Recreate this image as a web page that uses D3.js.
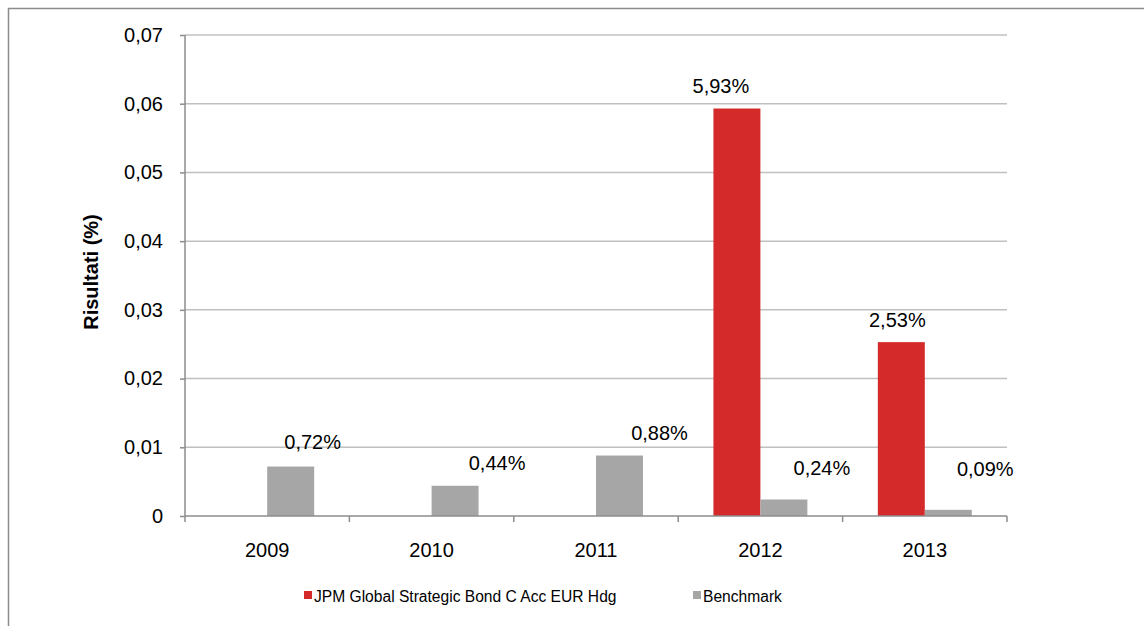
<!DOCTYPE html>
<html><head><meta charset="utf-8">
<script src="https://cdn.jsdelivr.net/npm/d3@7"></script>
<style>body{margin:0;background:#fff}svg{display:block}text{font-family:"Liberation Sans",Arial,sans-serif}</style>
</head><body>
<script>
const categories = ["2009","2010","2011","2012","2013"];
const seriesNames = ["JPM Global Strategic Bond C Acc EUR Hdg","Benchmark"];
const fundValues = [null,null,null,0.0593,0.0253];
const benchValues = [0.0072,0.0044,0.0088,0.0024,0.0009];
const fundLabels = [null,null,null,"5,93%","2,53%"];
const benchLabels = ["0,72%","0,44%","0,88%","0,24%","0,09%"];
const yTicks = [0,0.01,0.02,0.03,0.04,0.05,0.06,0.07];
// manual label nudges (as in the original, where labels were dragged)
const fundLabelNudge = [null,null,null,[-16,-23],[-4,-22]];
const benchLabelNudge = [[22,-25],[42,-23],[40,-23],[38,-32],[37,-41]];

const W=1144,H=626;
const svg=d3.select("body").append("svg").attr("width",W).attr("height",H);
svg.append("rect").attr("x",8.5).attr("y",8.5).attr("width",W+20).attr("height",H+20)
  .attr("fill","none").attr("stroke","#8c8c8c").attr("stroke-width",1.5);

const m={l:185,r:1007,t:35,b:516};
const x=d3.scaleBand().domain(categories).range([m.l,m.r]).paddingInner(0).paddingOuter(0);
const y=d3.scaleLinear().domain([0,0.07]).range([m.b,m.t]);
const bw=x.bandwidth()/3.5;
const FS=20;

// gridlines
svg.append("g").selectAll("line").data(yTicks.filter(d=>d>0)).join("line")
  .attr("x1",m.l).attr("x2",m.r).attr("y1",d=>y(d)).attr("y2",d=>y(d))
  .attr("stroke","#c0c0c0").attr("stroke-width",1.5);

const fmt=d=>d===0?"0":d3.format(".2f")(d).replace(".",",");
const ya=svg.append("g").attr("transform",`translate(${m.l},0)`)
  .call(d3.axisLeft(y).tickValues(yTicks).tickFormat(fmt).tickSize(5).tickPadding(17));
ya.select(".domain").attr("stroke","#8c8c8c").attr("stroke-width",1.5).attr("d",`M0,${m.t}V${m.b}`);
ya.selectAll(".tick line").attr("stroke","#8c8c8c").attr("stroke-width",1.5);
ya.selectAll(".tick text").attr("font-size",FS).attr("fill","#000");

// bars
const g=svg.append("g");
categories.forEach((c,i)=>{
  const x0=x(c)+bw*0.75;
  if(fundValues[i]!=null){
    g.append("rect").attr("x",x0).attr("width",bw).attr("y",y(fundValues[i])).attr("height",y(0)-y(fundValues[i])).attr("fill","#d42a2a");
    const n=fundLabelNudge[i];
    g.append("text").attr("x",x0+bw/2+n[0]).attr("y",y(fundValues[i])+n[1]).attr("dy","0.35em")
      .attr("text-anchor","middle").attr("font-size",FS).text(fundLabels[i]);
  }
  const x1=x0+bw;
  g.append("rect").attr("x",x1).attr("width",bw).attr("y",y(benchValues[i])).attr("height",y(0)-y(benchValues[i])).attr("fill","#a6a6a6");
  const n=benchLabelNudge[i];
  g.append("text").attr("x",x1+bw/2+n[0]).attr("y",y(benchValues[i])+n[1]).attr("dy","0.35em")
    .attr("text-anchor","middle").attr("font-size",FS).text(benchLabels[i]);
});

// x axis
const xa=svg.append("g").attr("transform",`translate(0,${m.b})`);
xa.append("line").attr("x1",m.l).attr("x2",m.r).attr("stroke","#8c8c8c").attr("stroke-width",1.5);
const bounds=categories.map(c=>x(c)).concat([m.r]);
xa.selectAll("line.t").data(bounds).join("line").attr("class","t")
  .attr("x1",d=>d).attr("x2",d=>d).attr("y1",0).attr("y2",6).attr("stroke","#8c8c8c").attr("stroke-width",1.5);
xa.selectAll("text").data(categories).join("text")
  .attr("x",d=>x(d)+x.bandwidth()/2).attr("y",34).attr("dy","0.35em")
  .attr("text-anchor","middle").attr("font-size",FS).text(d=>d);

// y title
svg.append("text").attr("transform","translate(91,272) rotate(-90)").attr("text-anchor","middle")
  .attr("dy","0.35em").attr("font-size",20).attr("font-weight","bold").text("Risultati (%)");

// legend
const leg=[{name:seriesNames[0],color:"#d42a2a",x:304},{name:seriesNames[1],color:"#a6a6a6",x:693}];
const lg=svg.append("g");
leg.forEach(d=>{
  lg.append("rect").attr("x",d.x).attr("y",591).attr("width",8).attr("height",8).attr("fill",d.color);
  lg.append("text").attr("x",d.x+10).attr("y",597).attr("dy","0.35em").attr("font-size",15.6).text(d.name);
});
</script>
</body></html>
